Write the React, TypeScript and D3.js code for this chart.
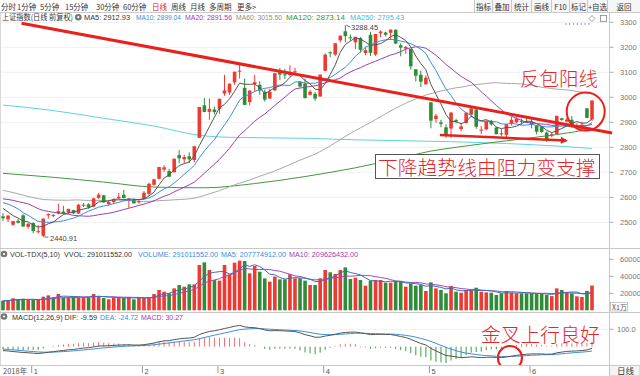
import React from 'react';
import * as d3 from 'd3';

// ---------------- data ----------------
// closes before the first visible candle (only used to warm up MA / MACD)
const preCloses = [
  2797.49, 2781.14, 2806.81, 2791.77, 2821.35,
  2716.51, 2721.01, 2725.84, 2583.46, 2606.91, 2568.10, 2546.33, 2561.61, 2486.42, 2550.47,
  2654.88, 2594.83, 2603.30, 2603.80, 2598.85, 2542.10, 2568.05, 2602.78,
  2606.24, 2676.48, 2665.43, 2659.36, 2641.34, 2635.63, 2598.87, 2630.52, 2654.88, 2632.24,
  2668.17, 2679.11, 2703.51, 2645.43, 2651.51, 2645.85, 2579.48, 2575.81, 2574.68, 2601.74,
  2567.44, 2588.19, 2654.80, 2665.96, 2649.81, 2605.18, 2605.89, 2584.58, 2594.09, 2602.15,
  2634.05, 2593.74, 2597.97, 2576.65, 2549.56, 2536.27,
];

const opens = [
  2524, 2512, 2490, 2506, 2528, 2482, 2497, 2461, 2446, 2528,
  2530, 2535, 2543, 2540, 2549, 2535, 2566, 2572, 2563, 2598,
  2608, 2573, 2581, 2597, 2610, 2591, 2590, 2580, 2592, 2614,
  2650, 2674, 2711, 2705, 2700, 2769, 2752, 2764, 2749, 2838,
  2968, 2942, 2951, 2954, 3015, 3019, 3060, 3103, 3038, 2981,
  3053, 3050, 3022, 2995, 3028, 3106, 3092, 3090, 3101, 3061,
  3055, 3010, 3014, 3003, 3106, 3180, 3171, 3228, 3264, 3240,
  3220, 3237, 3177, 3250, 3171, 3256, 3259, 3258, 3270, 3208,
  3195, 3193, 3112, 3090, 3052, 2980, 2913, 2900, 2880, 2875,
  2909, 2873, 2897, 2931, 2951, 2870, 2872, 2906, 2879, 2856,
  2850, 2893, 2900, 2906, 2904, 2901, 2887, 2881, 2859, 2846,
  2853, 2916, 2903, 2910, 2884, 2889, 2956, 2912,
];
const highs = [
  2537, 2528, 2506, 2513, 2532, 2497, 2500, 2488, 2515, 2536,
  2531, 2574, 2566, 2554, 2550, 2573, 2577, 2576, 2598, 2618,
  2609, 2588, 2595, 2617, 2630, 2597, 2596, 2591, 2625, 2658,
  2674, 2722, 2728, 2714, 2755, 2789, 2770, 2780, 2805, 2961,
  2997, 2995, 2963, 2995, 3090, 3055, 3103, 3129.94, 3075, 3027,
  3090, 3064, 3031, 3034, 3096, 3117, 3114, 3128, 3118, 3065,
  3075, 3029, 3021, 3091, 3176, 3184, 3216, 3247, 3288.45, 3251,
  3242, 3241, 3200, 3261, 3253, 3268, 3262, 3271, 3272, 3216,
  3205, 3193, 3112, 3107, 3088, 2980, 2934, 2910, 2892, 2939,
  2914, 2898, 2939, 2956, 2954, 2886, 2908, 2910, 2881, 2873,
  2893, 2922, 2920, 2915, 2918, 2918, 2888, 2885, 2863, 2859,
  2927, 2918, 2918, 2925, 2897, 2902, 2956, 2988,
];
const lows = [
  2505, 2501, 2486, 2495, 2482, 2475, 2456, 2455, 2440.91, 2515,
  2520, 2531, 2533, 2533, 2534, 2534, 2561, 2554, 2560, 2593,
  2578, 2566, 2573, 2591, 2595, 2558, 2575, 2574, 2592, 2606,
  2646, 2671, 2701, 2681, 2700, 2736, 2737, 2737, 2740, 2838,
  2940, 2910, 2932, 2934, 3006, 3009, 3050, 3075, 2969, 2968,
  3022, 3010, 2983, 2994, 3025, 3069, 3073, 3083, 3093, 3039,
  2995, 3007, 2986, 3003, 3104, 3160, 3165, 3220, 3220, 3227,
  3193, 3179, 3168, 3165, 3166, 3240, 3243, 3230, 3213, 3164,
  3174, 3111, 3063, 3041, 3050, 2876, 2898, 2880, 2838, 2838,
  2895, 2865, 2895, 2920, 2874, 2853, 2868, 2886, 2852, 2846,
  2838, 2887, 2897, 2890, 2897, 2876, 2852, 2858, 2822, 2841,
  2853, 2905, 2899, 2878, 2873, 2883, 2916, 2905,
];
const closes = [
  2516.25, 2527.01, 2504.82, 2498.29, 2483.09, 2493.90, 2465.29, 2464.36, 2514.87, 2533.09,
  2526.46, 2544.34, 2535.10, 2553.83, 2535.77, 2570.42, 2570.34, 2559.64, 2596.01, 2610.51,
  2579.70, 2581.00, 2591.69, 2601.72, 2596.98, 2594.25, 2575.58, 2584.57, 2618.23, 2653.90,
  2671.89, 2721.07, 2719.70, 2682.39, 2754.36, 2755.65, 2761.22, 2751.80, 2804.23, 2961.28,
  2941.52, 2953.82, 2940.95, 2994.01, 3027.58, 3054.25, 3102.10, 3106.42, 2969.86, 3026.99,
  3060.31, 3026.95, 2990.69, 3021.75, 3096.42, 3090.98, 3090.64, 3101.46, 3104.15, 3043.03,
  2997.10, 3022.72, 2994.94, 3090.76, 3170.36, 3176.82, 3216.30, 3246.57, 3244.81, 3239.66,
  3241.93, 3189.96, 3188.63, 3177.79, 3253.60, 3263.12, 3250.20, 3270.80, 3215.04, 3198.59,
  3201.61, 3123.83, 3086.40, 3062.50, 3078.34, 2906.46, 2926.39, 2893.76, 2850.95, 2939.21,
  2903.71, 2883.61, 2938.68, 2955.71, 2882.30, 2870.60, 2905.97, 2891.70, 2852.52, 2852.99,
  2892.38, 2909.91, 2914.70, 2905.81, 2898.70, 2890.08, 2862.28, 2861.42, 2827.80, 2852.13,
  2925.72, 2909.38, 2910.74, 2881.97, 2887.62, 2890.16, 2917.80, 2987.12,
];
// volume, in units of 10,000 (x1万)
const volumes = [
  11300, 11300, 14100, 12900, 13700, 12100, 12100, 12100, 16000, 17600,
  15200, 19200, 15200, 15200, 16000, 15200, 15200, 15200, 19200, 17000,
  14500, 12900, 15200, 15200, 14500, 15200, 12900, 15200, 15200, 15200,
  19200, 23900, 21900, 20000, 25800, 29700, 27800, 30500, 30500, 53300,
  56400, 47400, 35600, 34900, 53300, 42300, 56000, 58400, 58000, 43500,
  52100, 45400, 37600, 33700, 39600, 36400, 36400, 42300, 37600, 37600,
  34900, 29700, 29700, 37600, 47400, 44700, 42700, 47400, 50500, 36800,
  38400, 35600, 29000, 34900, 35600, 35600, 32500, 32500, 34500, 33700,
  27800, 31700, 29000, 29700, 22700, 32900, 25800, 23900, 20000, 28600,
  21900, 20700, 23900, 23900, 26600, 21900, 21100, 20700, 18000, 20000,
  22700, 20700, 20000, 20000, 20000, 20000, 19200, 19200, 18200, 16700,
  25800, 23900, 21145, 19900, 16400, 15600, 22880, 29101,
];
// long moving averages: [candle index, value]
const ma120Read: [number, number][] = [
  [0, 2696], [10, 2680], [20, 2661], [30, 2641], [40, 2638], [50, 2655], [60, 2683],
  [70, 2718], [80, 2762], [85, 2785], [90, 2800], [100, 2826], [110, 2851], [117, 2873.14],
];
const ma250Read: [number, number][] = [
  [0, 2969], [10, 2947], [20, 2916], [30, 2885], [39, 2848], [45, 2840], [60, 2836],
  [70, 2830], [80, 2826], [90, 2822], [100, 2815], [110, 2805], [117, 2795.43],
];

const priceTicks = [3300, 3200, 3100, 3000, 2900, 2800, 2700, 2600, 2500];
const volTicks = [60000, 40000, 20000];
const macdTicks = [100];
const monthStartIdx = [6, 28, 43, 64, 85, 105];
const monthLabels = ['1', '2', '3', '4', '5', '6'];
const yearLabel = '2018年';
const toolbarItems = ['分时', '1分钟', '5分钟', '15分钟', '30分钟', '60分钟', '日线', '周线', '月线', '多周期', '更多>'];
const toolbarRight = ['指标', '叠加', '统计', '画线', 'F10', '标记', '+自选', '返回'];
const priceTitle = '上证指数(日线 前复权)';
const priceLegend = ['MA5: 2912.93', 'MA10: 2899.04', 'MA20: 2891.56', 'MA60: 3015.50', 'MA120: 2873.14', 'MA250: 2795.43'];
const volLegend = ['VOL-TDX(5,10)', 'VVOL: 291011552.00', 'VOLUME: 291011552.00', 'MA5: 207774912.00', 'MA10: 209626432.00'];
const macdLegend = ['MACD(12,26,9) DIF: -9.59', 'DEA: -24.72', 'MACD: 30.27'];
const highLabel = '3288.45';
const lowLabel = '2440.91';
const noteRebound = '反包阳线';
const noteTrend = '下降趋势线由阻力变支撑';
const noteCross = '金叉上行良好';

// ---------------- layout ----------------
const W = 640, H = 376;
const AXIS_X = 609.5;
const RED = '#ee3a32';
const GREEN = '#2f8d3a';
const NOTE = '#e3262a';
const LATIN = "'Liberation Sans', Arial, 'Noto Sans CJK SC', sans-serif";
const CJK = "'Noto Sans CJK SC', 'Liberation Sans', sans-serif";

const toolbarX = [1, 17, 40, 65, 96, 123, 152, 171, 190, 209, 237];
const toolbarCells = [474, 492, 511, 531, 551, 569, 587, 607, 640];
const priceLegendPos: [number, number, string][] = [
  [84, 46, '#333'], [136, 45, '#2f8fdf'], [185, 47, '#a43aa9'], [236, 46, '#8c8c8c'], [286, 59, '#2e9b2e'], [350, 54, '#38c4d4'],
];
const volLegendPos: [number, number, string][] = [
  [10, 50, '#333'], [64, 68, '#333'], [138, 80, '#2f8fdf'], [221, 65, '#2f8fdf'], [289, 69, '#a43aa9'],
];
const macdLegendPos: [number, number, string][] = [
  [12, 85, '#333'], [100, 38, '#2f8fdf'], [141, 42, '#a43aa9'],
];

export default function App() {
  const n = closes.length;
  const x = d3.scaleLinear().domain([0, n - 1]).range([3, 592]);
  const yP = d3.scaleLinear().domain([2500, 3300]).range([222.3, 22.3]);
  const yV = d3.scaleLinear().domain([0, 60000]).range([310.3, 259.3]);
  const yM = d3.scaleLinear().domain([0, 100]).range([346.7, 329.3]);

  const all = [...preCloses, ...closes];
  const P = preCloses.length;
  const sma = (k: number) =>
    closes.map((_, i) => d3.mean(all.slice(Math.max(0, P + i - k + 1), P + i + 1)) as number);
  const ma5 = sma(5), ma10 = sma(10), ma20 = sma(20), ma60 = sma(60);

  // MACD(12,26,9)
  const dif: number[] = [], dea: number[] = [], hist: number[] = [];
  let e12 = all[0], e26 = all[0], d9 = 0;
  all.forEach((c, k) => {
    if (k > 0) {
      e12 = (2 * c + 11 * e12) / 13;
      e26 = (2 * c + 25 * e26) / 27;
    }
    const d = e12 - e26;
    d9 = k === 0 ? d : (2 * d + 8 * d9) / 10;
    if (k >= P) {
      dif.push(d);
      dea.push(d9);
      hist.push(2 * (d - d9));
    }
  });

  const vma = (k: number) => volumes.map((_, i) => d3.mean(volumes.slice(Math.max(0, i - k + 1), i + 1)) as number);
  const vma5 = vma(5), vma10 = vma(10);

  const lineP = d3.line<number>().x((_, i) => x(i)).y((v) => yP(v));
  const lineRead = d3.line<[number, number]>().x((d) => x(d[0])).y((d) => yP(d[1])).curve(d3.curveMonotoneX);
  const lineV = d3.line<number>().x((_, i) => x(i)).y((v) => yV(v));
  const lineM = d3.line<number>().x((_, i) => x(i)).y((v) => yM(v));

  const up = (i: number) => closes[i] >= opens[i];
  const bw = 3.6;

  // annotations in data coordinates
  const trend = [[3.675, 3296], [120.98, 2857]];
  const arrow = [[86.8, 2849], [111.8, 2827]];
  const ax2 = x(arrow[1][0]), ay2 = yP(arrow[1][1]);
  const ax1 = x(arrow[0][0]), ay1 = yP(arrow[0][1]);
  const ang = Math.atan2(ay2 - ay1, ax2 - ax1);
  const ah = 7, aw = 3.5;
  const tip = [ax2 + Math.cos(ang) * 2, ay2 + Math.sin(ang) * 2];
  const head = [
    tip,
    [tip[0] - ah * Math.cos(ang) + aw * Math.sin(ang), tip[1] - ah * Math.sin(ang) - aw * Math.cos(ang)],
    [tip[0] - ah * Math.cos(ang) - aw * Math.sin(ang), tip[1] - ah * Math.sin(ang) + aw * Math.cos(ang)],
  ];

  const hiIdx = highs.indexOf(d3.max(highs) as number);
  const loIdx = lows.indexOf(d3.min(lows) as number);

  return (
    <svg width={W} height={H} style={{ position: 'fixed', left: 0, top: 0, background: '#fff' }} fontFamily={LATIN}>
      <defs>
        <clipPath id="macdClip">
          <rect x={0} y={313} width={AXIS_X} height={52} />
        </clipPath>
      </defs>
      <rect x={0} y={0} width={W} height={H} fill="#fff" />

      {/* toolbar */}
      {toolbarItems.map((t, i) => (
        <text key={t} x={toolbarX[i]} y={9.5} fontSize={7.5} fontFamily={CJK} fill={t === '日线' ? '#e02020' : '#333'}>{t}</text>
      ))}
      <rect x={toolbarCells[0]} y={0} width={W - toolbarCells[0]} height={12} fill="#f6f6f6" />
      {toolbarCells.slice(0, -1).map((cx, i) => (
        <g key={i}>
          <line x1={cx + 0.5} x2={cx + 0.5} y1={0} y2={12} stroke="#c8c8c8" />
          <text x={(cx + toolbarCells[i + 1]) / 2 + 0.5} y={9.5} fontSize={7.5} textAnchor="middle" fontFamily={CJK} fill="#333">{toolbarRight[i]}</text>
        </g>
      ))}
      <line x1={0} x2={W} y1={12.5} y2={12.5} stroke="#c8c8c8" />

      {/* panel frame */}
      <line x1={0.5} x2={0.5} y1={12.5} y2={365} stroke="#d8d8d8" />
      <line x1={AXIS_X} x2={AXIS_X} y1={12.5} y2={H} stroke="#c8c8c8" />
      <line x1={0} x2={W} y1={248.5} y2={248.5} stroke="#c8c8c8" />
      <line x1={0} x2={W} y1={312.5} y2={312.5} stroke="#c8c8c8" />
      <line x1={0} x2={W} y1={365.5} y2={365.5} stroke="#c8c8c8" />

      {/* price grid and axis */}
      {priceTicks.map((t) => (
        <g key={t}>
          <line x1={1} x2={AXIS_X} y1={yP(t)} y2={yP(t)} stroke="#efefef" />
          <line x1={AXIS_X} x2={AXIS_X + 4} y1={yP(t)} y2={yP(t)} stroke="#aaa" />
          <text x={620} y={yP(t) + 2.8} fontSize={7.5} fill="#777">{t}</text>
        </g>
      ))}

      {/* long MAs */}
      <path d={lineRead(ma250Read) || ''} fill="none" stroke="#5fd3dc" strokeWidth={1} />
      <path d={lineRead(ma120Read) || ''} fill="none" stroke="#3f9a3f" strokeWidth={1} />
      <path d={lineP(ma60) || ''} fill="none" stroke="#a8a8a8" strokeWidth={1} />

      {/* candles */}
      {closes.map((c, i) => {
        const col = up(i) ? RED : GREEN;
        const yo = yP(opens[i]), yc = yP(c);
        return (
          <g key={i}>
            <line x1={x(i)} x2={x(i)} y1={yP(highs[i])} y2={yP(lows[i])} stroke={col} strokeWidth={1} />
            <rect x={x(i) - bw / 2} y={Math.min(yo, yc)} width={bw} height={Math.max(1, Math.abs(yo - yc))} fill={col} />
          </g>
        );
      })}

      {/* short MAs */}
      <path d={lineP(ma20) || ''} fill="none" stroke="#9b3fb0" strokeWidth={1} />
      <path d={lineP(ma10) || ''} fill="none" stroke="#3c8fd8" strokeWidth={1} />
      <path d={lineP(ma5) || ''} fill="none" stroke="#555" strokeWidth={1} />

      {/* high/low labels */}
      <line x1={x(hiIdx) + 1} y1={yP(highs[hiIdx])} x2={x(hiIdx) + 5} y2={yP(highs[hiIdx]) + 2} stroke="#666" />
      <text x={351} y={30} fontSize={7.5} fill="#444">{highLabel}</text>
      <line x1={x(loIdx) + 1} y1={yP(lows[loIdx])} x2={x(loIdx) + 5} y2={yP(lows[loIdx])} stroke="#666" />
      <text x={50} y={240.5} fontSize={7.5} fill="#444">{lowLabel}</text>

      {/* price header */}
      <text x={2} y={20} fontSize={8} fontFamily={CJK} fill="#333" textLength={71} lengthAdjust="spacingAndGlyphs">{priceTitle}</text>
      <circle cx={78.3} cy={17.2} r={3.3} fill="#777" />
      <circle cx={78.3} cy={17.2} r={1.1} fill="#fff" />
      {priceLegend.map((t, i) => (
        <text key={t} x={priceLegendPos[i][0]} y={20} fontSize={7.5} fill={priceLegendPos[i][2]} textLength={priceLegendPos[i][1]} lengthAdjust="spacingAndGlyphs">{t}</text>
      ))}
      {d3.range(7).map((k) => (
        <circle key={k} cx={566 + k * 3.8} cy={24} r={0.7} fill="#a060c0" />
      ))}
      <path d="M592,15.5 L595,18.5 L592,21.5 L589,18.5 Z" fill="none" stroke="#888" strokeWidth={0.8} />
      <rect x={600.5} y={15.5} width={6} height={6} fill="none" stroke="#888" strokeWidth={0.8} />

      {/* trend annotations */}
      <line x1={x(trend[0][0])} y1={yP(trend[0][1])} x2={x(trend[1][0])} y2={yP(trend[1][1])} stroke="#e8211d" strokeWidth={3} />
      <line x1={ax1} y1={ay1} x2={ax2} y2={ay2} stroke="#e8211d" strokeWidth={2.5} />
      <polygon points={head.map((p) => p.join(',')).join(' ')} fill="#e8211d" />
      <circle cx={x(115.75)} cy={yP(2943)} r={19} fill="none" stroke="#e8211d" strokeWidth={2} />
      <text x={520} y={85.5} fontSize={19.5} fontFamily={CJK} fontWeight={300} fill={NOTE}>{noteRebound}</text>
      <rect x={375.5} y={154.5} width={224} height={24} fill="#fff" stroke="#555" strokeWidth={1} />
      <text x={378} y={174.5} fontSize={19.8} fontFamily={CJK} fontWeight={300} fill={NOTE}>{noteTrend}</text>

      {/* volume panel */}
      <circle cx={4} cy={254} r={3.3} fill="#777" />
      <circle cx={4} cy={254} r={1.1} fill="#fff" />
      {volLegend.map((t, i) => (
        <text key={t} x={volLegendPos[i][0]} y={257} fontSize={7} fill={volLegendPos[i][2]} textLength={volLegendPos[i][1]} lengthAdjust="spacingAndGlyphs">{t}</text>
      ))}
      {volTicks.map((t) => (
        <g key={t}>
          <line x1={AXIS_X} x2={AXIS_X + 4} y1={yV(t)} y2={yV(t)} stroke="#aaa" />
          <text x={620} y={yV(t) + 2.8} fontSize={7.5} fill="#777">{t}</text>
        </g>
      ))}
      <rect x={610.5} y={302.5} width={17} height={8.5} fill="#fff" stroke="#bbb" strokeWidth={0.8} />
      <text x={612} y={309.5} fontSize={7} fontFamily={CJK} fill="#555">X1万</text>
      {volumes.map((v, i) => (
        <rect key={i} x={x(i) - bw / 2} y={yV(v)} width={bw} height={yV(0) - yV(v)} fill={up(i) ? RED : GREEN} />
      ))}
      <path d={lineV(vma10) || ''} fill="none" stroke="#a04ab8" strokeWidth={1} />
      <path d={lineV(vma5) || ''} fill="none" stroke="#3a6fb8" strokeWidth={1} />

      {/* MACD panel */}
      <circle cx={4} cy={316.5} r={3.3} fill="#777" />
      <circle cx={4} cy={316.5} r={1.1} fill="#fff" />
      {macdLegend.map((t, i) => (
        <text key={t} x={macdLegendPos[i][0]} y={319.5} fontSize={7} fill={macdLegendPos[i][2]} textLength={macdLegendPos[i][1]} lengthAdjust="spacingAndGlyphs">{t}</text>
      ))}
      {macdTicks.map((t) => (
        <g key={t}>
          <line x1={1} x2={AXIS_X} y1={yM(t)} y2={yM(t)} stroke="#f0f0f0" />
          <line x1={AXIS_X} x2={AXIS_X + 4} y1={yM(t)} y2={yM(t)} stroke="#aaa" />
          <text x={617} y={yM(t) + 2.8} fontSize={7.5} fill="#777">{t.toFixed(1)}</text>
        </g>
      ))}
      <g clipPath="url(#macdClip)">
        {hist.map((h, i) => (
          <line key={i} x1={x(i)} x2={x(i)} y1={yM(0)} y2={yM(h)} stroke={h >= 0 ? '#f07070' : '#3f9a46'} strokeWidth={1} />
        ))}
        <path d={lineM(dea) || ''} fill="none" stroke="#3c8fd8" strokeWidth={1} />
        <path d={lineM(dif) || ''} fill="none" stroke="#555" strokeWidth={1} />
        <circle cx={x(100.7)} cy={yM(-65)} r={12} fill="none" stroke="#e8211d" strokeWidth={2.2} />
      </g>
      <text x={481} y={341.5} fontSize={19.8} fontFamily={CJK} fontWeight={300} fill={NOTE}>{noteCross}</text>

      {/* date axis */}
      <text x={3} y={373.5} fontSize={7.5} fontFamily={CJK} fill="#555">{yearLabel}</text>
      {monthStartIdx.map((m, i) => (
        <g key={m}>
          <line x1={x(m) - 1.5} x2={x(m) - 1.5} y1={366} y2={373} stroke="#999" />
          <text x={x(m) + 0.5} y={373.5} fontSize={7.5} fill="#555">{monthLabels[i]}</text>
        </g>
      ))}
      <rect x={AXIS_X} y={365.5} width={W - AXIS_X} height={10.5} fill="#f4f4f4" stroke="#c8c8c8" />
      <text x={617} y={374} fontSize={8.5} fontFamily={CJK} fill="#333">日线</text>
    </svg>
  );
}
